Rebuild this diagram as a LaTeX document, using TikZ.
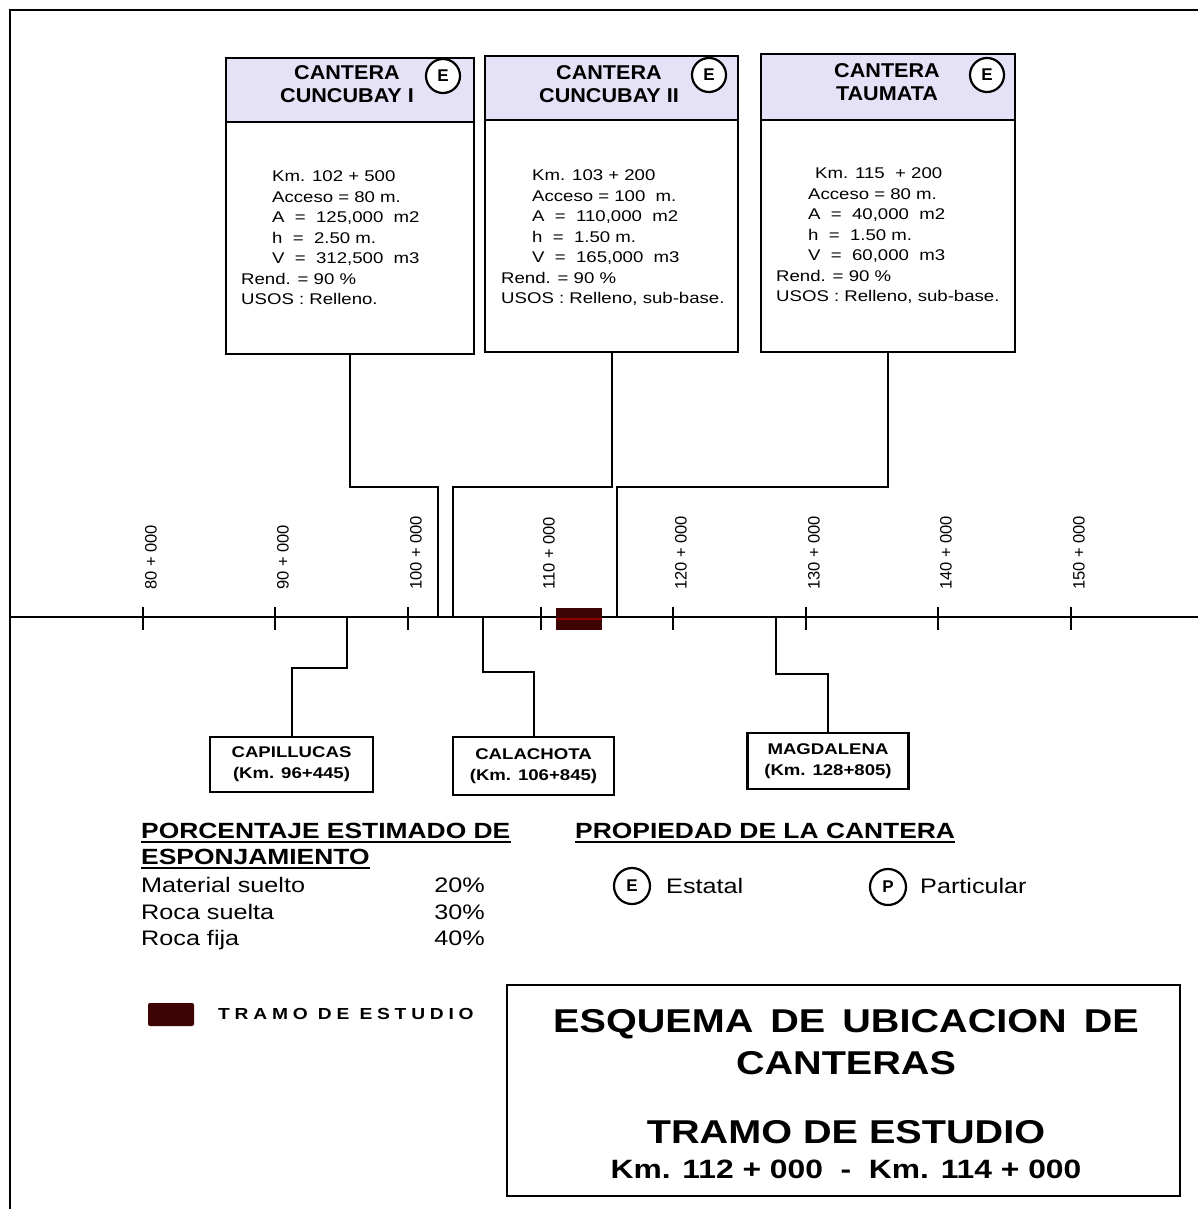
\documentclass[tikz,border=0pt]{standalone}
\usepackage{fontspec}
\setmainfont{Liberation Sans}[FakeStretch=1.2]
\newfontfamily\plainsans{Liberation Sans}
\newfontfamily\hdrfont{Liberation Sans}[FakeStretch=1.08]
\newfontfamily\spacedfont{Liberation Sans}[FakeStretch=1.2,LetterSpace=30]
\usetikzlibrary{calc}
\definecolor{headfill}{RGB}{229,225,246}
\definecolor{tramocol}{RGB}{62,4,4}
\tikzset{
  qbox/.style={draw, line width=2.2pt, fill=white, inner sep=0pt, anchor=north west},
  qhead/.style={draw, line width=2.2pt, fill=headfill, inner sep=0pt, anchor=north west},
  htxt/.style={font=\hdrfont\bfseries\fontsize{20}{23}\selectfont, align=center, inner sep=0pt},
  own/.style={circle, draw, line width=2.2pt, fill=white, minimum size=34pt, inner sep=0pt,
    font=\plainsans\bfseries\fontsize{17}{17}\selectfont},
  btxt/.style={font=\fontsize{15.5}{20.5}\selectfont, align=left, inner sep=0pt, anchor=north west},
  conn/.style={line width=2pt},
  axisline/.style={line width=2pt},
  tickmark/.style={line width=2.8pt},
  kmlab/.style={font=\plainsans\fontsize{16.5}{16.5}\selectfont, rotate=90, anchor=west, inner sep=0pt},
  sbox/.style={draw, line width=2.2pt, fill=white, inner sep=0pt, align=center,
    font=\bfseries\fontsize{15.5}{21}\selectfont},
  headline/.style={anchor=base west, inner sep=0pt, font=\bfseries\fontsize{22}{22}\selectfont},
  uline/.style={line width=2.5pt},
  legtxt/.style={inner sep=0pt, font=\fontsize{21}{21}\selectfont},
  legown/.style={circle, draw, line width=2.2pt, minimum size=36pt, inner sep=0pt,
    font=\plainsans\bfseries\fontsize{17}{17}\selectfont},
  ttxt/.style={inner sep=0pt, anchor=base, font=\bfseries\fontsize{33}{33}\selectfont},
}
\begin{document}
\begin{tikzpicture}[x=1pt,y=-1pt]
\useasboundingbox (0,0) rectangle (1198,1209);

% sheet frame
\draw[line width=2pt] (10,1209) -- (10,10) -- (1198,10);

% quarry boxes
\node[qbox, minimum width=248pt, minimum height=296pt] (c1) at (225,57) {};
\node[qhead, minimum width=248pt, minimum height=64pt] (c1h) at (225,57) {};
\node[htxt] (c1t) at (347,84.5) {CANTERA\\CUNCUBAY I};
\node[own] (c1e) at (443,76) {E};
\node[btxt] (c1b) at (241,170.5) {%
\hspace*{31pt}Km. 102 + 500\\
\hspace*{31pt}Acceso = 80 m.\\
\hspace*{31pt}A \ = \ 125,000 \ m2\\
\hspace*{31pt}h \ = \ 2.50 m.\\
\hspace*{31pt}V \ = \ 312,500 \ m3\\
Rend. = 90 \%\\
USOS : Relleno.};

\node[qbox, minimum width=253pt, minimum height=296pt] (c2) at (484,55) {};
\node[qhead, minimum width=253pt, minimum height=64pt] (c2h) at (484,55) {};
\node[htxt] (c2t) at (609,84.5) {CANTERA\\CUNCUBAY II};
\node[own] (c2e) at (709,75) {E};
\node[btxt] (c2b) at (501,169.5) {%
\hspace*{31pt}Km. 103 + 200\\
\hspace*{31pt}Acceso = 100 \ m.\\
\hspace*{31pt}A \ = \ 110,000 \ m2\\
\hspace*{31pt}h \ = \ 1.50 m.\\
\hspace*{31pt}V \ = \ 165,000 \ m3\\
Rend. = 90 \%\\
USOS : Relleno, sub-base.};

\node[qbox, minimum width=254pt, minimum height=298pt] (c3) at (760,53) {};
\node[qhead, minimum width=254pt, minimum height=66pt] (c3h) at (760,53) {};
\node[htxt] (c3t) at (887,82) {CANTERA\\TAUMATA};
\node[own] (c3e) at (987,75) {E};
\node[btxt] (c3b) at (776,167.5) {%
\hspace*{39pt}Km. 115 \ + 200\\
\hspace*{32pt}Acceso = 80 m.\\
\hspace*{32pt}A \ = \ 40,000 \ m2\\
\hspace*{32pt}h \ = \ 1.50 m.\\
\hspace*{32pt}V \ = \ 60,000 \ m3\\
Rend. = 90 \%\\
USOS : Relleno, sub-base.};

% road axis and kilometre ticks
\coordinate (axL) at (10,617);
\coordinate (axR) at (1198,617);
\draw[axisline] (axL) -- (axR);
\foreach \k/\x in {80/143,90/275,100/408,110/541,120/673,130/806,140/938,150/1071}{
  \draw[tickmark] (\x,607) -- (\x,630);
  \node[kmlab] (km\k) at (\x+8,590) {\k\ + 000};
}

% connection points on the axis
\coordinate (k1) at (438,617);
\coordinate (k2) at (453,617);
\coordinate (k3) at (617,617);
\coordinate (k4) at (347,617);
\coordinate (k5) at (483,617);
\coordinate (k6) at (776,617);

\draw[conn] (c1.south) -- ++(0,132) -| (k1);
\draw[conn] (c2.south) -- ++(0,134) -| (k2);
\draw[conn] (c3.south) -- ++(0,134) -| (k3);

% study section on the axis
\node[fill=tramocol, minimum width=46pt, minimum height=22pt, inner sep=0pt] (tr) at (579,619) {};
\draw[red!55!black, line width=1.5pt] (tr.west) -- (tr.east);

% secondary quarries below the axis
\node[sbox, minimum width=163pt, minimum height=55pt] (cap) at (291.5,764.5) {CAPILLUCAS\\(Km. 96+445)};
\node[sbox, minimum width=161pt, minimum height=58pt] (cal) at (533.5,766) {CALACHOTA\\(Km. 106+845)};
\node[sbox, minimum width=161pt, minimum height=56pt] (mag) at (828,761) {MAGDALENA\\(Km. 128+805)};

\draw[conn] (k4) -- ++(0,51) -| (cap.north);
\draw[conn] (k5) -- ++(0,55) -| (cal.north);
\draw[conn] (k6) -- ++(0,57) -| (mag.north);

% swell percentages
\node[headline] (pe1) at (141,838) {PORCENTAJE ESTIMADO DE};
\node[headline] (pe2) at (141,864) {ESPONJAMIENTO};
\draw[uline] ([yshift=-4pt]pe1.base west) -- ([yshift=-4pt]pe1.base east);
\draw[uline] ([yshift=-4pt]pe2.base west) -- ([yshift=-4pt]pe2.base east);
\node[legtxt, anchor=base west] (m1) at (141,892) {Material suelto};
\node[legtxt, anchor=base west] (m2) at (141,919) {Roca suelta};
\node[legtxt, anchor=base west] (m3) at (141,945) {Roca fija};
\node[legtxt, anchor=base east] (p1) at (485,892) {20\%};
\node[legtxt, anchor=base east] (p2) at (485,919) {30\%};
\node[legtxt, anchor=base east] (p3) at (485,945) {40\%};

% ownership legend
\node[headline] (pr) at (575,838) {PROPIEDAD DE LA CANTERA};
\draw[uline] ([yshift=-4pt]pr.base west) -- ([yshift=-4pt]pr.base east);
\node[legown] (le) at (632,886) {E};
\node[legtxt, anchor=base west] (les) at (666,893) {Estatal};
\node[legown] (lp) at (888,887) {P};
\node[legtxt, anchor=base west] (lps) at (920,893) {Particular};

% study section legend
\node[fill=tramocol, rounded corners=2pt, minimum width=46pt, minimum height=23pt, inner sep=0pt] (sw) at (171,1014.5) {};
\node[inner sep=0pt, anchor=base west, font=\spacedfont\bfseries\fontsize{16}{16}\selectfont] (swt) at (218,1019) {TRAMO DE ESTUDIO};

% title block
\node[draw, line width=2pt, inner sep=0pt, minimum width=673pt, minimum height=211pt] (tb) at (843.5,1090.5) {};
\node[ttxt] (t1) at (846,1032) {ESQUEMA\hspace{6pt} DE\hspace{6pt} UBICACION\hspace{6pt} DE};
\node[ttxt] (t2) at (846,1074) {CANTERAS};
\node[ttxt] (t3) at (846,1143) {TRAMO DE ESTUDIO};
\node[ttxt, font=\bfseries\fontsize{26.5}{26.5}\selectfont] (t4) at (846,1178) {Km. 112 + 000 \ - \ Km. 114 + 000};
\end{tikzpicture}
\end{document}
